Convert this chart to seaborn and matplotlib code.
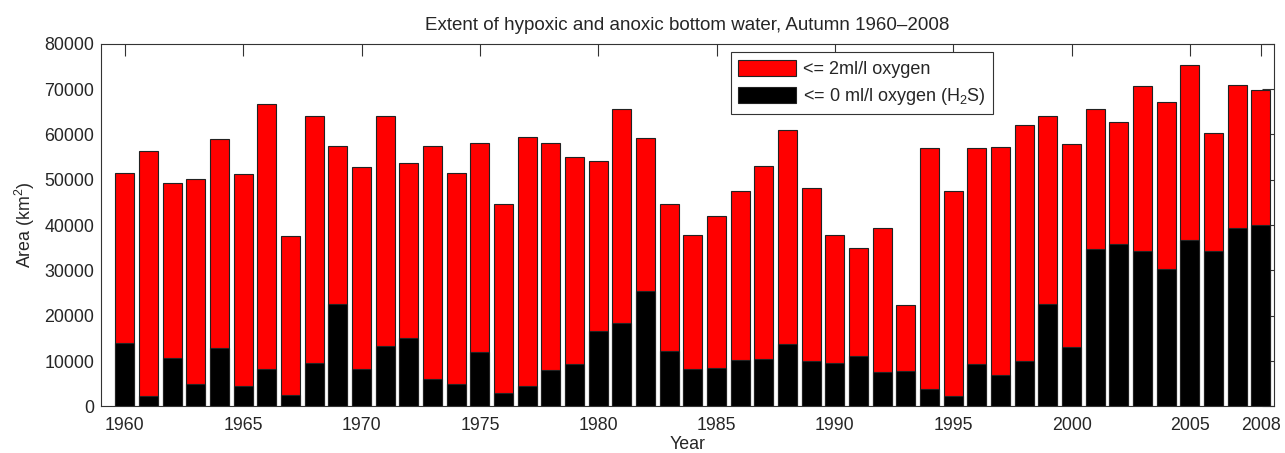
import numpy as np
import pandas as pd
import matplotlib
matplotlib.use("Agg")
import matplotlib.pyplot as plt
import seaborn as sns
from matplotlib.patches import Patch

# 数据 (km2)
years = list(range(1960, 2009))
hypoxic = [51500, 56400, 49200, 50200, 58900, 51300, 66600, 37500, 64000, 57400,
           52900, 64000, 53600, 57500, 51500, 58100, 44600, 59500, 58000, 54900,
           54100, 65600, 59100, 44600, 37900, 42100, 47500, 53100, 61000, 48200,
           37800, 34900, 39400, 22300, 56900, 47500, 57000, 57200, 62100, 64100,
           57900, 65600, 62700, 70700, 67100, 75200, 60200, 70800, 69800]
anoxic = [14000, 2300, 10600, 5000, 12800, 4500, 8200, 2400, 9500, 22500,
          8200, 13400, 15000, 6000, 5000, 12000, 2900, 4500, 8000, 9300,
          16700, 18400, 25400, 12300, 8200, 8500, 10300, 10400, 13800, 10100,
          9500, 11200, 7600, 7800, 3900, 2200, 9300, 7000, 10100, 22600,
          13100, 34800, 35800, 34200, 30400, 36700, 34300, 39300, 40100]
xtick_years = [1960, 1965, 1970, 1975, 1980, 1985, 1990, 1995, 2000, 2005, 2008]
legend_labels = ['<= 2ml/l oxygen', '<= 0 ml/l oxygen (H$_2$S)']

df = pd.DataFrame({'Year': years, 'hypoxic': hypoxic, 'anoxic': anoxic})

sns.set_style("white")
plt.rcParams['font.family'] = ['Liberation Sans', 'DejaVu Sans']
plt.rcParams['mathtext.fontset'] = 'custom'
plt.rcParams['mathtext.rm'] = 'Liberation Sans'

fig = plt.figure(figsize=(12.85, 4.53), dpi=100)
ax = fig.add_axes([0.0788, 0.103, 0.9126, 0.8005])

# 红色: 总面积, 黑色: 覆盖在上面
sns.barplot(data=df, x='Year', y='hypoxic', native_scale=True, color='#ff0000',
            saturation=1, edgecolor='#222222', linewidth=0.8, width=0.8, ax=ax)
sns.barplot(data=df, x='Year', y='anoxic', native_scale=True, color='#000000',
            saturation=1, edgecolor='#222222', linewidth=0.8, width=0.8, ax=ax)

ax.set_xlim(1959.0, 2008.55)
ax.set_ylim(0, 80000)
ax.set_xticks(xtick_years)
ax.set_xticklabels([str(y) for y in xtick_years])
ax.set_yticks(range(0, 80001, 10000))
ax.tick_params(direction='in', length=8.5, width=0.8, color='#333333',
               top=True, right=True, labelsize=12.8)
ax.tick_params(axis='x', pad=8)
ax.tick_params(axis='y', pad=5)
for s in ax.spines.values():
    s.set_color('#333333')
    s.set_linewidth(0.8)

ax.set_xlabel('Year', fontsize=12.8, labelpad=1)
ax.set_ylabel('Area (km$^2$)', fontsize=12.8, labelpad=5)
ax.set_title('Extent of hypoxic and anoxic bottom water, Autumn 1960\u20132008',
             fontsize=13.5, pad=10)

handles = [Patch(facecolor='#ff0000', edgecolor='#222222', linewidth=0.8),
           Patch(facecolor='#000000', edgecolor='#222222', linewidth=0.8)]
leg = ax.legend(handles, legend_labels, loc='upper left', bbox_to_anchor=(0.5367, 0.976),
                borderaxespad=0, fancybox=False, framealpha=1, fontsize=13,
                handlelength=3.2, handleheight=1.0, handletextpad=0.4,
                labelspacing=0.45, borderpad=0.4)
leg.get_frame().set_edgecolor('#333333')
leg.get_frame().set_linewidth(0.8)

plt.savefig('out.png', dpi=100)
